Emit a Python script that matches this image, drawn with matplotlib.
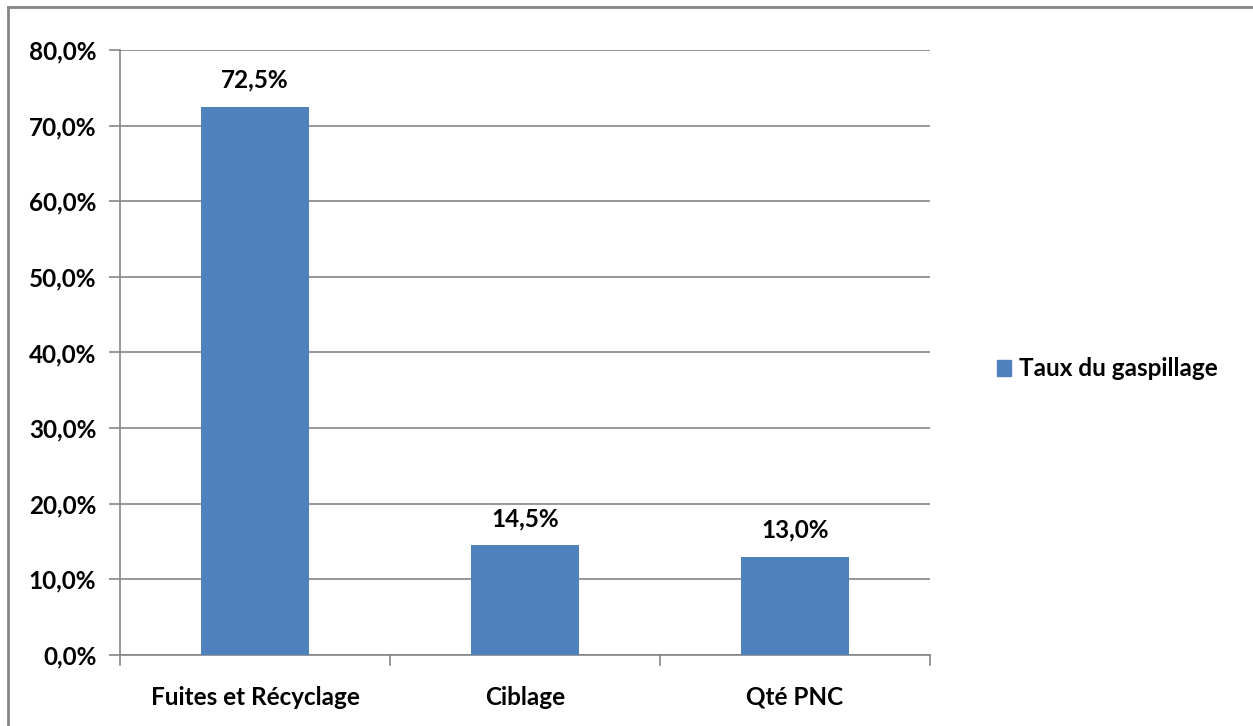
import matplotlib.pyplot as plt
from matplotlib.lines import Line2D
from matplotlib.patches import Patch

categories = ["Fuites et Récyclage", "Ciblage", "Qté PNC"]
taux = [72.5, 14.5, 13.0]
yticks = [0, 10, 20, 30, 40, 50, 60, 70, 80]
serie = "Taux du gaspillage"

plt.rcParams['font.family'] = ['Lato', 'DejaVu Sans']
W, H = 1253, 726
fig = plt.figure(figsize=(W / 100, H / 100), dpi=100)
ax = fig.add_axes([120 / W, 1 - 655 / H, 810 / W, 605 / H])

grey = '#868686'
fs = 17.5
x = list(range(len(categories)))
bars = ax.bar(x, taux, width=0.4, color='#4F81BD', zorder=3)

for b, v in zip(bars, taux):
    ax.text(b.get_x() + b.get_width() / 2, v + 2.0, f"{v:.1f}%".replace('.', ','),
            ha='center', va='bottom', fontsize=fs, fontweight='bold')

ax.set_xlim(-0.5, len(categories) - 0.5)
ax.set_ylim(0, 80)
ax.set_yticks(yticks)
ax.set_yticklabels([f"{t:.1f}%".replace('.', ',') for t in yticks],
                   fontsize=fs, fontweight='bold')
ax.yaxis.grid(True, color=grey, linewidth=1.2, zorder=0)
ax.set_xticks(x)
ax.set_xticklabels(categories, fontsize=fs, fontweight='bold')
ax.tick_params(axis='x', length=0, pad=22)
ax.tick_params(axis='y', length=8, color=grey, width=1.2, pad=9)

# category boundary ticks
for b in [-0.5, 0.5, 1.5, 2.5]:
    ax.plot([b, b], [0, -1.3], color=grey, lw=1.2, clip_on=False)

for s in ['top', 'right']:
    ax.spines[s].set_visible(False)
for s in ['left', 'bottom']:
    ax.spines[s].set_color(grey)
    ax.spines[s].set_linewidth(1.2)

ax.legend(handles=[Patch(color='#4F81BD', label=serie)], loc='center left',
          bbox_to_anchor=(975 / W, 1 - 369 / H), bbox_transform=fig.transFigure,
          frameon=False, prop={'size': fs, 'weight': 'bold'},
          handlelength=0.6, handleheight=0.6, handletextpad=0.3)

# outer frame (left and top visible)
fig.add_artist(Line2D([8 / W, 8 / W], [0, 1 - 7 / H], color=grey, lw=2, transform=fig.transFigure))
fig.add_artist(Line2D([8 / W, 1], [1 - 7 / H, 1 - 7 / H], color=grey, lw=2, transform=fig.transFigure))

fig.savefig('out.png', dpi=100)
